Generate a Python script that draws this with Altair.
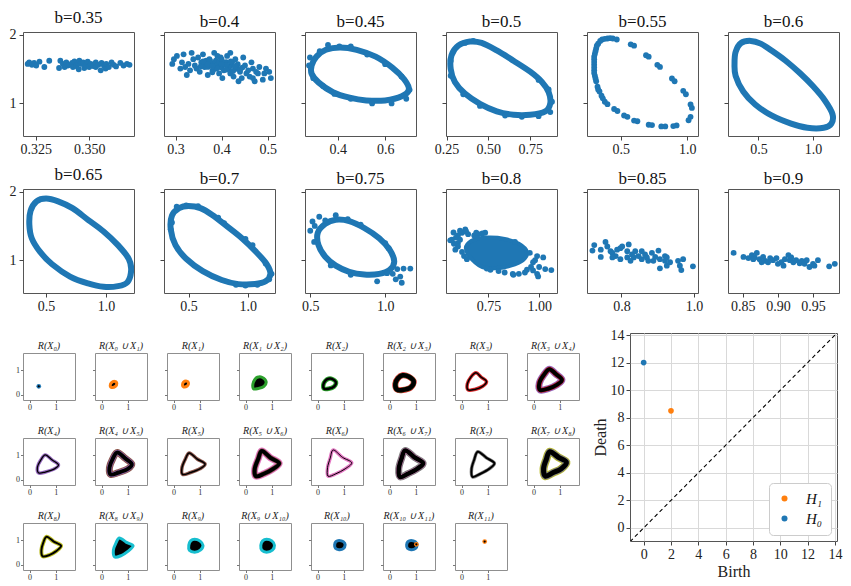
import altair as alt
import pandas as pd

FONT = "Liberation Serif"
BLUE = "#1f77b4"; ORANGE = "#ff7f0e"; GREEN = "#2ca02c"; RED = "#d62728"
PURPLE = "#9467bd"; BROWN = "#8c564b"; PINK = "#e377c2"; GRAY = "#7f7f7f"
OLIVE = "#bcbd22"; CYAN = "#17becf"

# ---------------- top grid: b panels ----------------
b_titles = ["b=0.35", "b=0.4", "b=0.45", "b=0.5", "b=0.55", "b=0.6",
            "b=0.65", "b=0.7", "b=0.75", "b=0.8", "b=0.85", "b=0.9"]
x_domains = [[0.319, 0.371], [0.275, 0.516], [0.262, 0.730], [0.247, 0.910],
             [0.246, 1.081], [0.220, 1.240], [0.307, 1.234], [0.293, 1.229],
             [0.465, 1.205], [0.541, 1.088], [0.705, 1.011], [0.829, 0.987]]
x_ticks = [[0.325, 0.350], [0.3, 0.4, 0.5], [0.4, 0.6], [0.25, 0.5, 0.75],
           [0.5, 1.0], [0.5, 1.0], [0.5, 1.0], [0.5, 1.0], [0.5, 1.0],
           [0.75, 1.0], [0.8, 1.0], [0.85, 0.9, 0.95]]
x_formats = [".3f", ".1f", ".1f", ".2f", ".1f", ".1f", ".1f", ".1f", ".1f",
             ".2f", ".1f", ".2f"]
y_domain = [0.52, 2.04]
y_ticks = [1, 2]

pts_035 = [(0.3212, 1.574), (0.3219, 1.597), (0.3232, 1.56), (0.3242, 1.588),
           (0.3252, 1.55), (0.3267, 1.607), (0.329, 1.528), (0.3313, 1.62),
           (0.3359, 1.514), (0.3365, 1.62), (0.3377, 1.574), (0.3385, 1.528),
           (0.3393, 1.597), (0.3400, 1.55), (0.3408, 1.56), (0.342, 1.588),
           (0.3424, 1.528), (0.3431, 1.611), (0.3439, 1.542), (0.3447, 1.588),
           (0.3451, 1.496), (0.3454, 1.62), (0.3462, 1.574), (0.3472, 1.597),
           (0.3477, 1.514), (0.3485, 1.55), (0.3493, 1.607), (0.350, 1.528),
           (0.3508, 1.574), (0.3519, 1.542), (0.3531, 1.597), (0.3531, 1.528),
           (0.3543, 1.56), (0.3554, 1.48), (0.3558, 1.588), (0.3569, 1.55),
           (0.3577, 1.505), (0.358, 1.574), (0.3592, 1.528), (0.3605, 1.597),
           (0.3615, 1.56), (0.3626, 1.537), (0.3646, 1.588), (0.3661, 1.55),
           (0.3677, 1.574), (0.3689, 1.56)]

pts_040 = [(0.293, 1.574), (0.2965, 1.643), (0.303, 1.69), (0.3105, 1.505),
           (0.314, 1.597), (0.3175, 1.713), (0.321, 1.528), (0.3245, 1.412),
           (0.328, 1.574), (0.3316, 1.48), (0.335, 1.736), (0.3386, 1.643),
           (0.342, 1.55), (0.3455, 1.505), (0.349, 1.667), (0.3526, 1.458),
           (0.356, 1.597), (0.3596, 1.713), (0.363, 1.528), (0.3665, 1.62),
           (0.370, 1.412), (0.3736, 1.643), (0.377, 1.574), (0.3806, 1.48),
           (0.384, 1.736), (0.3876, 1.62), (0.391, 1.528), (0.391, 1.69),
           (0.3947, 1.435), (0.398, 1.667), (0.4017, 1.366), (0.405, 1.574),
           (0.412, 1.69), (0.4158, 1.505), (0.419, 1.435), (0.419, 1.736),
           (0.4228, 1.597), (0.426, 1.389), (0.4298, 1.643), (0.433, 1.528),
           (0.4368, 1.32), (0.440, 1.458), (0.4438, 1.366), (0.447, 1.667),
           (0.4508, 1.55), (0.454, 1.435), (0.4579, 1.48), (0.461, 1.389),
           (0.4649, 1.597), (0.468, 1.505), (0.468, 1.366), (0.4719, 1.32),
           (0.475, 1.458), (0.4789, 1.435), (0.482, 1.528), (0.4895, 1.343),
           (0.4929, 1.435), (0.4964, 1.505), (0.5035, 1.458), (0.507, 1.366),
           (0.36, 1.56), (0.37, 1.53), (0.38, 1.58), (0.39, 1.55), (0.40, 1.52),
           (0.41, 1.60), (0.42, 1.55), (0.43, 1.50), (0.375, 1.62), (0.395, 1.60),
           (0.405, 1.48), (0.385, 1.50), (0.365, 1.59), (0.415, 1.53), (0.435, 1.57),
           (0.355, 1.54), (0.425, 1.47), (0.445, 1.52), (0.40, 1.64), (0.38, 1.45),
           (0.37, 1.57), (0.39, 1.51), (0.41, 1.56), (0.42, 1.61), (0.40, 1.57),
           (0.38, 1.54), (0.43, 1.54), (0.36, 1.61), (0.41, 1.49), (0.44, 1.49)]

ring_045 = [(0.29, 1.55), (0.31, 1.68), (0.35, 1.78), (0.41, 1.815), (0.48, 1.78),
            (0.56, 1.68), (0.63, 1.52), (0.68, 1.35), (0.70, 1.20), (0.67, 1.10),
            (0.60, 1.04), (0.52, 1.04), (0.45, 1.08), (0.38, 1.16), (0.32, 1.30),
            (0.29, 1.43)]
pts_045 = [(0.283, 1.667), (0.324, 1.76), (0.359, 1.85), (0.407, 1.83), (0.455, 1.83),
           (0.524, 1.71), (0.60, 1.57), (0.669, 1.39), (0.703, 1.195), (0.689, 1.065),
           (0.627, 0.996), (0.545, 0.996), (0.455, 1.065), (0.386, 1.135),
           (0.338, 1.25), (0.297, 1.365), (0.279, 1.55)]

ring_050 = [(0.28, 1.70), (0.32, 1.84), (0.39, 1.90), (0.46, 1.88), (0.55, 1.77),
            (0.65, 1.62), (0.75, 1.46), (0.82, 1.31), (0.86, 1.16), (0.87, 1.00),
            (0.84, 0.88), (0.75, 0.83), (0.65, 0.83), (0.55, 0.88), (0.45, 0.99),
            (0.36, 1.14), (0.30, 1.31), (0.275, 1.50)]
pts_050 = [(0.36, 1.88), (0.41, 1.91), (0.80, 1.34), (0.86, 1.20), (0.88, 1.02),
           (0.87, 0.87), (0.80, 0.81), (0.70, 0.80), (0.60, 0.82), (0.45, 0.96),
           (0.35, 1.13), (0.275, 1.40), (0.275, 1.62)]

pts_055 = [(0.36, 1.93), (0.40, 1.945), (0.44, 1.945), (0.47, 1.93),
           (0.575, 1.86), (0.60, 1.84), (0.69, 1.70), (0.71, 1.68),
           (0.775, 1.56), (0.795, 1.53), (0.885, 1.36), (0.905, 1.32),
           (0.97, 1.18), (0.99, 1.13), (1.025, 0.98), (1.035, 0.93),
           (1.025, 0.80), (1.01, 0.75), (0.92, 0.675), (0.895, 0.665),
           (0.835, 0.66), (0.805, 0.66), (0.735, 0.68), (0.71, 0.685),
           (0.625, 0.735), (0.60, 0.745), (0.55, 0.80), (0.525, 0.82),
           (0.475, 0.885), (0.45, 0.915), (0.40, 0.985), (0.38, 1.02),
           (0.365, 1.07), (0.355, 1.11), (0.34, 1.17), (0.325, 1.24),
           (0.315, 1.32), (0.305, 1.40), (0.30, 1.48), (0.30, 1.56),
           (0.30, 1.64), (0.305, 1.72), (0.315, 1.80), (0.33, 1.87), (0.345, 1.91),
           (0.38, 1.94), (0.42, 1.95), (0.33, 1.20), (0.31, 1.36), (0.30, 1.44),
           (0.30, 1.52), (0.30, 1.60), (0.30, 1.68), (0.31, 1.76), (0.32, 1.84)]

ring_060 = [(0.29, 1.75), (0.34, 1.88), (0.43, 1.91), (0.52, 1.87), (0.62, 1.77),
            (0.75, 1.62), (0.88, 1.44), (1.00, 1.25), (1.11, 1.04), (1.18, 0.84),
            (1.17, 0.70), (1.10, 0.64), (0.95, 0.64), (0.80, 0.70), (0.62, 0.82),
            (0.47, 0.98), (0.36, 1.17), (0.29, 1.40), (0.28, 1.58)]

ring_065 = [(0.37, 1.72), (0.42, 1.86), (0.50, 1.90), (0.60, 1.86), (0.72, 1.76),
            (0.85, 1.59), (0.98, 1.42), (1.10, 1.22), (1.19, 1.02), (1.21, 0.85),
            (1.18, 0.68), (1.10, 0.62), (0.98, 0.61), (0.85, 0.66), (0.70, 0.76),
            (0.55, 0.94), (0.45, 1.12), (0.38, 1.32), (0.36, 1.52)]

ring_070 = [(0.36, 1.65), (0.42, 1.76), (0.50, 1.79), (0.60, 1.76), (0.70, 1.66),
            (0.82, 1.50), (0.95, 1.32), (1.07, 1.12), (1.16, 0.94), (1.19, 0.80),
            (1.15, 0.69), (1.06, 0.65), (0.92, 0.65), (0.78, 0.71), (0.62, 0.84),
            (0.48, 1.02), (0.39, 1.22), (0.35, 1.45)]
pts_070 = [(0.40, 1.78), (0.48, 1.80), (0.58, 1.79), (0.75, 1.62), (0.80, 1.54),
           (0.98, 1.31), (1.04, 1.22), (1.15, 0.95), (1.20, 0.80), (1.18, 0.72),
           (1.08, 0.64), (0.98, 0.63), (0.90, 0.64), (0.36, 1.55), (0.35, 1.45)]

ring_075 = [(0.55, 1.40), (0.60, 1.53), (0.67, 1.59), (0.76, 1.57), (0.86, 1.47),
            (0.96, 1.32), (1.03, 1.15), (1.06, 0.98), (1.03, 0.86), (0.96, 0.80),
            (0.86, 0.79), (0.76, 0.83), (0.67, 0.92), (0.60, 1.05), (0.555, 1.22)]
pts_075 = [(0.50, 1.43), (0.515, 1.565), (0.56, 1.634), (0.67, 1.656), (0.526, 1.267),
           (0.637, 0.923), (0.77, 0.785), (0.946, 0.69), (1.012, 0.81), (1.08, 0.87),
           (1.122, 0.877), (1.167, 0.877), (1.10, 0.76), (1.11, 0.67), (0.836, 1.52),
           (1.023, 1.175), (0.60, 1.58), (0.53, 1.50), (0.75, 1.60), (1.0, 1.25),
           (1.05, 0.80), (1.07, 0.72)]

blob_080 = [(0.64, 1.20), (0.68, 1.30), (0.75, 1.33), (0.83, 1.31), (0.90, 1.24),
            (0.94, 1.12), (0.92, 1.00), (0.86, 0.92), (0.78, 0.88), (0.72, 0.90),
            (0.68, 0.98), (0.65, 1.08)]
pts_080 = [(0.562, 1.29), (0.578, 1.404), (0.636, 1.45), (0.734, 1.40), (0.587, 1.153),
           (0.644, 1.015), (1.02, 1.04), (1.06, 0.855), (0.995, 0.762), (0.873, 0.785),
           (0.742, 0.877), (0.954, 1.106), (0.881, 1.267), (0.97, 0.97), (0.60, 1.36),
           (0.62, 1.40), (0.65, 1.38), (0.68, 1.36), (0.70, 1.38), (0.60, 1.25),
           (0.61, 1.30), (0.60, 1.20), (0.62, 1.12), (0.63, 1.06), (0.98, 1.00),
           (1.00, 0.90), (0.97, 0.85), (0.93, 0.82), (0.90, 0.80), (0.99, 1.06),
           (0.80, 0.84), (0.76, 0.86), (0.59, 1.33), (0.61, 1.43), (0.64, 1.42),
           (0.69, 1.40), (0.72, 1.39), (0.58, 1.24), (0.57, 1.30), (0.96, 0.90),
           (0.94, 0.86), (1.03, 0.87), (0.99, 0.80), (0.87, 0.80), (0.83, 0.82)]

pts_085 = [(0.720, 1.14), (0.725, 1.22), (0.743, 1.153), (0.743, 1.047), (0.756, 1.267),
           (0.761, 1.20), (0.775, 1.106), (0.784, 1.06), (0.788, 1.153), (0.797, 1.175),
           (0.802, 1.20), (0.820, 1.23), (0.816, 1.13), (0.829, 1.084), (0.834, 1.04),
           (0.838, 1.13), (0.847, 1.06), (0.856, 1.015), (0.865, 1.084), (0.870, 1.04),
           (0.884, 1.106), (0.888, 0.99), (0.902, 1.14), (0.906, 1.015), (0.906, 0.88),
           (0.920, 0.99), (0.925, 0.92), (0.934, 0.97), (0.956, 0.99), (0.961, 0.92),
           (0.965, 0.855), (0.970, 1.015), (0.997, 0.91), (0.816, 1.04), (0.825, 0.99),
           (0.797, 1.015), (0.856, 1.13), (0.874, 0.99), (0.893, 1.047), (0.920, 1.06),
           (0.775, 1.04), (0.770, 1.13), (0.925, 1.04)]

pts_090 = [(0.837, 1.106), (0.851, 1.047), (0.858, 1.03), (0.863, 1.074), (0.870, 1.106),
           (0.867, 1.04), (0.874, 1.015), (0.879, 1.047), (0.882, 0.99), (0.889, 1.03),
           (0.893, 1.0), (0.898, 1.03), (0.905, 0.97), (0.910, 1.015), (0.915, 1.074),
           (0.917, 1.0), (0.922, 0.97), (0.926, 1.0), (0.931, 0.955), (0.934, 0.99),
           (0.941, 1.0), (0.945, 0.90), (0.950, 0.946), (0.957, 1.0), (0.973, 0.91),
           (0.981, 0.946), (0.877, 0.97), (0.900, 0.946), (0.919, 1.04), (0.938, 0.946),
           (0.952, 0.92), (0.865, 1.015), (0.886, 0.97), (0.908, 0.92)]

top_rings = [None, None, ring_045, ring_050, None, ring_060,
             ring_065, ring_070, ring_075, None, None, None]
top_blobs = [None] * 9 + [blob_080, None, None]
top_points = [pts_035, pts_040, pts_045, pts_050, pts_055, None,
              None, pts_070, pts_075, pts_080, pts_085, pts_090]

# ---------------- bottom-left grid: R(X) panels ----------------
small_titles = ["R(X₀)", "R(X₀ ∪ X₁)", "R(X₁)", "R(X₁ ∪ X₂)", "R(X₂)", "R(X₂ ∪ X₃)",
                "R(X₃)", "R(X₃ ∪ X₄)", "R(X₄)", "R(X₄ ∪ X₅)", "R(X₅)", "R(X₅ ∪ X₆)",
                "R(X₆)", "R(X₆ ∪ X₇)", "R(X₇)", "R(X₇ ∪ X₈)", "R(X₈)", "R(X₈ ∪ X₉)",
                "R(X₉)", "R(X₉ ∪ X₁₀)", "R(X₁₀)", "R(X₁₀ ∪ X₁₁)", "R(X₁₁)"]

loop_01 = [(0.38, 0.50), (0.50, 0.55), (0.58, 0.47), (0.52, 0.34), (0.38, 0.30), (0.33, 0.38)]
loop_1 = [(0.38, 0.52), (0.50, 0.56), (0.57, 0.48), (0.52, 0.36), (0.38, 0.32), (0.34, 0.40)]
loop_12 = [(0.45, 0.72), (0.62, 0.72), (0.78, 0.55), (0.70, 0.35), (0.45, 0.25), (0.30, 0.25), (0.28, 0.45), (0.35, 0.62)]
loop_2 = [(0.42, 0.66), (0.55, 0.65), (0.70, 0.52), (0.62, 0.33), (0.42, 0.25), (0.25, 0.25), (0.22, 0.42), (0.30, 0.58)]
loop_23 = [(0.50, 0.80), (0.72, 0.75), (0.92, 0.55), (0.80, 0.30), (0.50, 0.20), (0.28, 0.22), (0.22, 0.45), (0.32, 0.68)]
loop_3 = [(0.55, 0.90), (0.75, 0.72), (0.95, 0.55), (0.80, 0.35), (0.50, 0.22), (0.25, 0.20), (0.22, 0.45), (0.35, 0.72)]
loop_34 = [(0.60, 1.05), (0.85, 0.85), (1.08, 0.62), (0.90, 0.42), (0.55, 0.25), (0.25, 0.20), (0.22, 0.48), (0.38, 0.80)]
loop_4 = [(0.60, 1.02), (0.85, 0.82), (1.10, 0.62), (0.95, 0.45), (0.60, 0.32), (0.35, 0.28), (0.30, 0.52), (0.42, 0.80)]
loop_45 = [(0.60, 1.12), (0.90, 0.88), (1.15, 0.65), (1.00, 0.45), (0.65, 0.30), (0.35, 0.22), (0.30, 0.50), (0.42, 0.85)]
loop_5 = [(0.60, 1.10), (0.90, 0.85), (1.20, 0.65), (1.00, 0.45), (0.65, 0.30), (0.35, 0.22), (0.32, 0.50), (0.45, 0.85)]
loop_56 = [(0.62, 1.18), (0.95, 0.90), (1.28, 0.68), (1.05, 0.45), (0.70, 0.25), (0.40, 0.15), (0.35, 0.45), (0.48, 0.85)]
loop_6 = [(0.60, 1.22), (0.95, 0.92), (1.30, 0.70), (1.05, 0.45), (0.70, 0.25), (0.40, 0.15), (0.38, 0.50), (0.48, 0.88)]
loop_67 = [(0.60, 1.20), (0.95, 0.92), (1.28, 0.68), (1.05, 0.45), (0.70, 0.25), (0.40, 0.12), (0.35, 0.45), (0.45, 0.85)]
loop_7 = [(0.62, 1.15), (0.95, 0.90), (1.25, 0.68), (1.05, 0.45), (0.72, 0.25), (0.42, 0.12), (0.38, 0.45), (0.48, 0.82)]
loop_78 = [(0.62, 1.15), (0.95, 0.92), (1.25, 0.72), (1.05, 0.45), (0.75, 0.30), (0.45, 0.15), (0.38, 0.45), (0.48, 0.82)]
loop_8 = [(0.65, 1.15), (0.92, 0.95), (1.20, 0.78), (1.00, 0.55), (0.75, 0.40), (0.50, 0.35), (0.45, 0.60), (0.52, 0.90)]
loop_89 = [(0.68, 1.10), (0.95, 0.92), (1.20, 0.78), (1.00, 0.55), (0.75, 0.38), (0.50, 0.32), (0.45, 0.60), (0.55, 0.90)]
loop_9 = [(0.80, 1.05), (1.00, 0.98), (1.12, 0.80), (1.02, 0.60), (0.80, 0.52), (0.60, 0.60), (0.58, 0.80), (0.65, 0.98)]
loop_910 = [(0.80, 1.05), (1.00, 0.98), (1.10, 0.80), (1.02, 0.60), (0.80, 0.52), (0.62, 0.60), (0.58, 0.80), (0.65, 0.98)]
loop_10 = [(0.82, 1.00), (0.98, 0.95), (1.05, 0.82), (0.98, 0.66), (0.82, 0.62), (0.68, 0.68), (0.65, 0.82), (0.70, 0.95)]
dot_0 = [(0.35, 0.35)]
dot_1011 = [(1.02, 0.84)]
dot_11 = [(0.88, 0.95)]

small_loops = [None, loop_01, loop_1, loop_12, loop_2, loop_23, loop_3, loop_34,
               loop_4, loop_45, loop_5, loop_56, loop_6, loop_67, loop_7, loop_78,
               loop_8, loop_89, loop_9, loop_910, loop_10, loop_10, None]
small_outer = [None, ORANGE, ORANGE, GREEN, GREEN, RED, RED, PURPLE,
               PURPLE, BROWN, BROWN, PINK, PINK, GRAY, GRAY, OLIVE,
               OLIVE, CYAN, CYAN, CYAN, BLUE, BLUE, None]
small_outer_w = [0, 3, 3, 3, 4.5, 6, 3.5, 7, 3.5, 7, 3.5, 7, 3.5, 7, 3.5, 8, 4, 3, 3, 3, 3, 3, 0]
small_inner = [None, None, None, None, None, GREEN, None, RED, None, PURPLE, None, BROWN,
               None, PINK, None, GRAY, None, None, None, None, None, None, None]
small_inner_w = [0, 0, 0, 0, 0, 4.5, 0, 5, 0, 5, 0, 5, 0, 5, 0, 6.5, 0, 0, 0, 0, 0, 0, 0]
small_black_w = [0, -1, -1, -1, 2.5, 4.5, 1.5, 4, 1.3, 4, 1.5, 4, 1.0, 4.5, 2, 5, 2, -1, -1, -1, -1, -1, 0]
small_dots = [dot_0, None, None, None, None, None, None, None, None, None, None, None,
              None, None, None, None, None, None, None, None, None, dot_1011, dot_11]
small_dot_colors = [BLUE] + [None] * 20 + [ORANGE, ORANGE]

# ---------------- persistence diagram ----------------
pd_birth = [2.0, 0.0]
pd_death = [8.5, 12.0]
pd_dim = ["H₁", "H₀"]
diag_vals = [-1.0, 14.15]


def frame(pairs):
    return pd.DataFrame({"x": [p[0] for p in pairs], "y": [p[1] for p in pairs],
                         "o": list(range(len(pairs)))})


def top_panel(i):
    col = i % 6
    xs = alt.Scale(domain=x_domains[i], nice=False, zero=False)
    ys = alt.Scale(domain=y_domain, nice=False, zero=False)
    xax = alt.Axis(values=x_ticks[i], format=x_formats[i], title=None, grid=False,
                   domain=False, labelFont=FONT, labelFontSize=14, labelColor="#222",
                   tickColor="#444", tickSize=4, labelPadding=2, labelFlush=False)
    yax = alt.Axis(values=y_ticks, format="d", title=None, grid=False, domain=False,
                   labels=(col == 0), labelFont=FONT, labelFontSize=14,
                   labelColor="#222", tickColor="#444", tickSize=4, labelPadding=3)
    X = alt.X("x:Q", scale=xs, axis=xax)
    Y = alt.Y("y:Q", scale=ys, axis=yax)
    layers = []
    if top_rings[i] is not None:
        layers.append(alt.Chart(frame(top_rings[i])).mark_line(
            interpolate="cardinal-closed", strokeWidth=6, color=BLUE, clip=True
        ).encode(x=X, y=Y, order=alt.Order("o:Q")))
    if top_blobs[i] is not None:
        layers.append(alt.Chart(frame(top_blobs[i])).mark_line(
            interpolate="cardinal-closed", filled=True, fill=BLUE, stroke=BLUE,
            strokeWidth=4, clip=True
        ).encode(x=X, y=Y, order=alt.Order("o:Q")))
    if top_points[i] is not None:
        layers.append(alt.Chart(frame(top_points[i])).mark_circle(
            size=34, color=BLUE, opacity=1, clip=True
        ).encode(x=X, y=Y))
    return alt.layer(*layers).properties(
        width=111, height=104,
        title=alt.TitleParams(b_titles[i], font=FONT, fontSize=17, fontWeight="normal",
                              color="#111", offset=1))


def small_panel(i):
    col = i % 8
    xs = alt.Scale(domain=[-0.25, 1.73], nice=False, zero=False)
    ys = alt.Scale(domain=[-0.21, 1.71], nice=False, zero=False)
    xax = alt.Axis(values=[0, 1], format="d", title=None, grid=False, domain=False,
                   labelFont=FONT, labelFontSize=8, labelColor="#333",
                   tickColor="#777", tickSize=2.5, labelPadding=1, labelFlush=False)
    yax = alt.Axis(values=[0, 1], format="d", title=None, grid=False, domain=False,
                   labels=(col == 0), labelFont=FONT, labelFontSize=8,
                   labelColor="#333", tickColor="#777", tickSize=2.5, labelPadding=1)
    X = alt.X("x:Q", scale=xs, axis=xax)
    Y = alt.Y("y:Q", scale=ys, axis=yax)
    layers = []
    loop = small_loops[i]
    if loop is not None:
        df = frame(loop)
        if small_black_w[i] < 0:
            layers.append(alt.Chart(df).mark_line(
                interpolate="cardinal-closed", filled=True, fill="black",
                stroke=small_outer[i], strokeWidth=small_outer_w[i], clip=True
            ).encode(x=X, y=Y, order=alt.Order("o:Q")))
        else:
            layers.append(alt.Chart(df).mark_line(
                interpolate="cardinal-closed", color=small_outer[i],
                strokeWidth=small_outer_w[i], clip=True
            ).encode(x=X, y=Y, order=alt.Order("o:Q")))
            if small_inner[i] is not None:
                layers.append(alt.Chart(df).mark_line(
                    interpolate="cardinal-closed", color=small_inner[i],
                    strokeWidth=small_inner_w[i], clip=True
                ).encode(x=X, y=Y, order=alt.Order("o:Q")))
            layers.append(alt.Chart(df).mark_line(
                interpolate="cardinal-closed", color="black",
                strokeWidth=small_black_w[i], clip=True
            ).encode(x=X, y=Y, order=alt.Order("o:Q")))
    if small_dots[i] is not None:
        ddf = frame(small_dots[i])
        layers.append(alt.Chart(ddf).mark_circle(
            size=22, color=small_dot_colors[i], opacity=1, clip=True
        ).encode(x=X, y=Y))
        layers.append(alt.Chart(ddf).mark_circle(
            size=5, color="black", opacity=1, clip=True
        ).encode(x=X, y=Y))
    return alt.layer(*layers).properties(
        width=52, height=47, view=alt.ViewBackground(stroke="#8f8f8f"),
        title=alt.TitleParams(small_titles[i], font=FONT, fontSize=10,
                              fontStyle="italic", fontWeight="normal",
                              color="#222", offset=2))


def persistence_panel():
    xs = alt.Scale(domain=[-1.0, 14.15], nice=False, zero=False)
    ys = alt.Scale(domain=[-0.95, 14.15], nice=False, zero=False)
    common = dict(values=list(range(0, 15, 2)), grid=True, gridColor="#d9d9d9",
                  gridWidth=1, domain=False, labelFont=FONT, labelFontSize=14,
                  labelColor="#222", tickColor="#444", tickSize=4, labelPadding=2,
                  titleFont=FONT, titleFontSize=16, titleFontWeight="normal",
                  titleColor="#222", labelFlush=False)
    xax = alt.Axis(title="Birth", titlePadding=2, **common)
    yax = alt.Axis(title="Death", titlePadding=2, **common)
    diag = pd.DataFrame({"x": diag_vals, "y": diag_vals})
    line = alt.Chart(diag).mark_line(
        strokeDash=[4, 3], color="black", strokeWidth=1.1, clip=True
    ).encode(x=alt.X("x:Q", scale=xs, axis=xax), y=alt.Y("y:Q", scale=ys, axis=yax))
    pts_df = pd.DataFrame({"x": pd_birth, "y": pd_death, "dim": pd_dim})
    pts = alt.Chart(pts_df).mark_circle(size=32, opacity=1).encode(
        x=alt.X("x:Q", scale=xs, axis=xax),
        y=alt.Y("y:Q", scale=ys, axis=yax),
        color=alt.Color("dim:N", scale=alt.Scale(domain=["H₁", "H₀"], range=[ORANGE, BLUE]),
                        legend=alt.Legend(title=None, orient="bottom-right", offset=6,
                                          padding=8, strokeColor="#cccccc",
                                          cornerRadius=4, fillColor="white",
                                          symbolType="circle", symbolSize=36,
                                          labelFont=FONT, labelFontSize=15,
                                          labelFontStyle="italic", labelOffset=14,
                                          rowPadding=4, labelColor="#111")))
    return alt.layer(line, pts).properties(width=207, height=208)


# invisible spacer that lowers the small grid relative to the persistence diagram
spacer = alt.Chart(pd.DataFrame({"x": [0.0]})).mark_point(opacity=0).encode(
    x=alt.X("x:Q", axis=None), y=alt.Y("x:Q", axis=None)
).properties(width=52, height=7, view=alt.ViewBackground(strokeOpacity=0))

top = alt.concat(*[top_panel(i) for i in range(12)], columns=6,
                 spacing={"row": 53, "column": 30}, bounds="flush")
small = alt.concat(*[small_panel(i) for i in range(23)], columns=8,
                   spacing={"row": 38, "column": 20}, bounds="flush")
left_block = alt.vconcat(spacer, small, spacing=0)
bottom = alt.hconcat(left_block, persistence_panel(), spacing=11).resolve_scale(
    color="independent").resolve_legend(color="independent")

chart = alt.vconcat(top, bottom, spacing=13).resolve_scale(
    color="independent").resolve_legend(color="independent").properties(
    padding={"left": 0, "top": 0, "right": 0, "bottom": 0}
).configure_view(stroke="#555555", strokeWidth=1)

chart.save("out.html", embed_options={"renderer": "svg", "actions": False})
